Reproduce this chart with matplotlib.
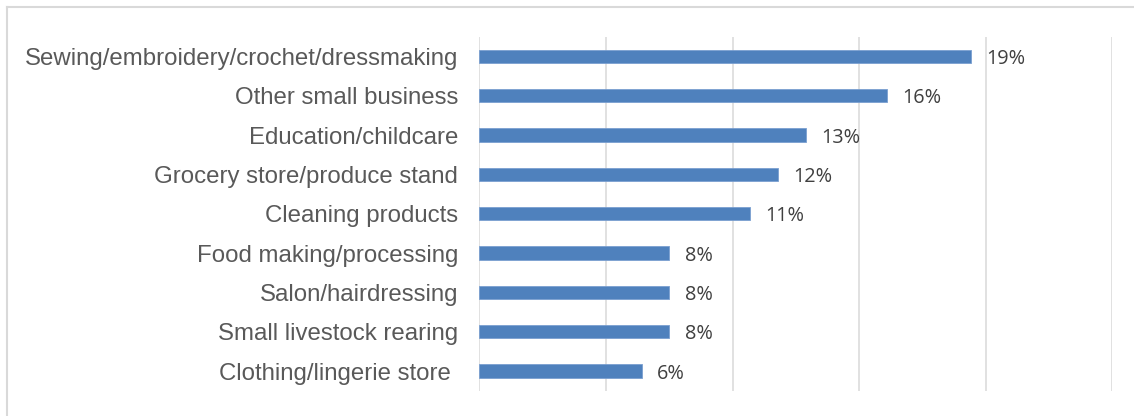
import matplotlib.pyplot as plt
from matplotlib.lines import Line2D

# share of women running each type of home business (%)
activities = [
    "Sewing/embroidery/crochet/dressmaking",
    "Other small business",
    "Education/childcare",
    "Grocery store/produce stand",
    "Cleaning products",
    "Food making/processing",
    "Salon/hairdressing",
    "Small livestock rearing",
    "Clothing/lingerie store ",
]
shares = [19.4, 16.1, 12.9, 11.8, 10.7, 7.5, 7.5, 7.5, 6.4]

fig = plt.figure(figsize=(11.34, 4.16), dpi=100)
ax = fig.add_axes([0.4228, 0.0608, 0.5582, 0.851])

ypos = list(range(len(activities)))
ax.barh(ypos, shares, height=0.333, color="#4f81bd", edgecolor="#7a9fd0",
        linewidth=0.6, zorder=3)

for y, v in zip(ypos, shares):
    ax.annotate(f"{v:.0f}%", xy=(v, y), xytext=(11, -1.8), textcoords="offset points",
                va="center", ha="left", fontsize=14.3, color="#404040",
                family="Open Sans")

ax.set_xlim(0, 25)
ax.set_ylim(len(activities) - 0.5, -0.5)
ax.set_xticks([0, 5, 10, 15, 20, 25])
ax.set_xticklabels([])
ax.grid(axis="x", color="#d9d9d9", linewidth=1.1, zorder=0)
ax.tick_params(axis="both", length=0)
ax.tick_params(axis="y", pad=15.5)
ax.set_yticks(ypos)
ax.set_yticklabels(activities, fontsize=17.3, color="#595959",
                   family="Liberation Sans")
for s in ax.spines.values():
    s.set_visible(False)

# light frame on top and left
fig.add_artist(Line2D([7 / 1134, 1133 / 1134], [1 - 7 / 416, 1 - 7 / 416],
                      color="#d9d9d9", linewidth=1.5, transform=fig.transFigure))
fig.add_artist(Line2D([7 / 1134, 7 / 1134], [0, 1 - 7 / 416],
                      color="#d9d9d9", linewidth=1.5, transform=fig.transFigure))

fig.savefig("out.png", dpi=100)
